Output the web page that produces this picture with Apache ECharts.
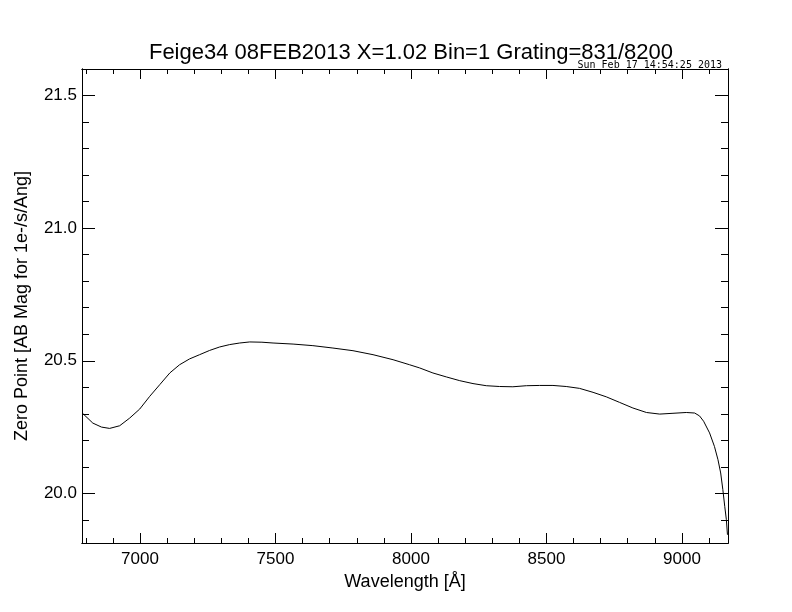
<!DOCTYPE html>
<html>
<head>
<meta charset="utf-8">
<script src="https://cdn.jsdelivr.net/npm/echarts@6/dist/echarts.min.js"></script>
<style>
	html, body { margin: 0; padding: 0; background: #fff; }
	#chart_1 { width: 792px; height: 612px; }
</style>
</head>
<body>
<div id="chart_1"></div>
<script>
// 数据
var wavelength = [6787, 6826, 6858, 6888, 6925, 6962, 6999, 7036, 7073, 7110, 7146, 7183, 7220, 7257, 7294, 7331,
	7368, 7405, 7450, 7491, 7565, 7638, 7712, 7786, 7860, 7934, 7995, 8032, 8081, 8131, 8180, 8229, 8278, 8327, 8376,
	8426, 8475, 8524, 8573, 8622, 8672, 8721, 8770, 8819, 8869, 8918, 8967, 9016, 9047, 9065, 9080,
	9102, 9120, 9133, 9143, 9151, 9158, 9164, 9168];
var zeroPoint = [20.303, 20.265, 20.250, 20.245, 20.255, 20.284, 20.318, 20.366, 20.410, 20.454, 20.485, 20.507, 20.523, 20.539, 20.552, 20.561,
	20.567, 20.571, 20.570, 20.567, 20.563, 20.557, 20.548, 20.538, 20.523, 20.504, 20.485, 20.473, 20.454, 20.439, 20.425, 20.414, 20.406, 20.403, 20.402,
	20.406, 20.407, 20.407, 20.403, 20.396, 20.381, 20.364, 20.343, 20.322, 20.305, 20.299, 20.302, 20.305, 20.303, 20.292, 20.272,
	20.228, 20.177, 20.127, 20.077, 20.014, 19.951, 19.901, 19.844];

var xMajor = [7000, 7500, 8000, 8500, 9000];
var xMinor = [6800, 6900, 7100, 7200, 7300, 7400, 7600, 7700, 7800, 7900, 8100, 8200, 8300, 8400,
	8600, 8700, 8800, 8900, 9100];
var yMajor = [20.0, 20.5, 21.0, 21.5];
var yMinor = [19.9, 20.1, 20.2, 20.3, 20.4, 20.6, 20.7, 20.8, 20.9, 21.1, 21.2, 21.3, 21.4];

var titleText = 'Feige34 08FEB2013 X=1.02 Bin=1 Grating=831/8200';
var stampText = 'Sun Feb 17 14:54:25 2013';

(function() {
	var myChart = echarts.init(document.getElementById('chart_1'));
	var font = 'Liberation Sans';
	var xMin = 6786, xMax = 9170, yMin = 19.813, yMax = 21.6;

	// 坐标轴（主/次刻度分开画）
	function xAxis(pos, values, len, withLabel) {
		return {
			type: 'value', position: pos, min: xMin, max: xMax,
			axisLine: { show: true, onZero: false, lineStyle: { color: '#000', width: 1 } },
			axisTick: { show: true, inside: true, length: len, customValues: values, lineStyle: { color: '#000' } },
			axisLabel: withLabel ? {
				show: true, customValues: values, color: '#000', fontFamily: font, fontSize: 17, margin: 8,
				formatter: function(v) { return String(v); }
			} : { show: false },
			splitLine: { show: false }
		};
	}
	function yAxis(pos, values, len, withLabel) {
		return {
			type: 'value', position: pos, min: yMin, max: yMax,
			axisLine: { show: true, onZero: false, lineStyle: { color: '#000', width: 1 } },
			axisTick: { show: true, inside: true, length: len, customValues: values, lineStyle: { color: '#000' } },
			axisLabel: withLabel ? {
				show: true, customValues: values, color: '#000', fontFamily: font, fontSize: 17, margin: 5,
				formatter: function(v) { return v.toFixed(1); }
			} : { show: false },
			splitLine: { show: false }
		};
	}

	var xs = [xAxis('bottom', xMajor, 10, true), xAxis('bottom', xMinor, 5, false),
		xAxis('top', xMajor, 10, false), xAxis('top', xMinor, 5, false)];
	xs[0].name = 'Wavelength [Å]';
	xs[0].nameLocation = 'middle';
	xs[0].nameGap = 28;
	xs[0].nameTextStyle = { color: '#000', fontFamily: font, fontSize: 18 };

	var ys = [yAxis('left', yMajor, 13, true), yAxis('left', yMinor, 7, false),
		yAxis('right', yMajor, 13, false), yAxis('right', yMinor, 7, false)];
	ys[0].name = 'Zero Point [AB Mag for 1e-/s/Ang]';
	ys[0].nameLocation = 'middle';
	ys[0].nameGap = 51;
	ys[0].nameTextStyle = { color: '#000', fontFamily: font, fontSize: 18 };

	var data = [];
	for (var i = 0; i < wavelength.length; i++) {
		data.push([wavelength[i], zeroPoint[i]]);
	}

	var option = {
		animation: false,
		backgroundColor: '#fff',
		title: [{
			text: titleText,
			left: 406, top: 37, textAlign: 'center',
			textStyle: { color: '#000', fontFamily: font, fontSize: 22, fontWeight: 'normal' }
		}, {
			text: stampText,
			right: 65, top: 55,
			textStyle: { color: '#000', fontFamily: 'DejaVu Sans Mono', fontSize: 10, fontWeight: 'normal' }
		}],
		grid: { left: 82, top: 69, width: 646, height: 474 },
		xAxis: xs,
		yAxis: ys,
		series: [{
			type: 'line',
			xAxisIndex: 0,
			yAxisIndex: 0,
			showSymbol: false,
			lineStyle: { color: '#000', width: 1 },
			data: data
		}]
	};
	myChart.setOption(option);
})();
</script>
</body>
</html>
